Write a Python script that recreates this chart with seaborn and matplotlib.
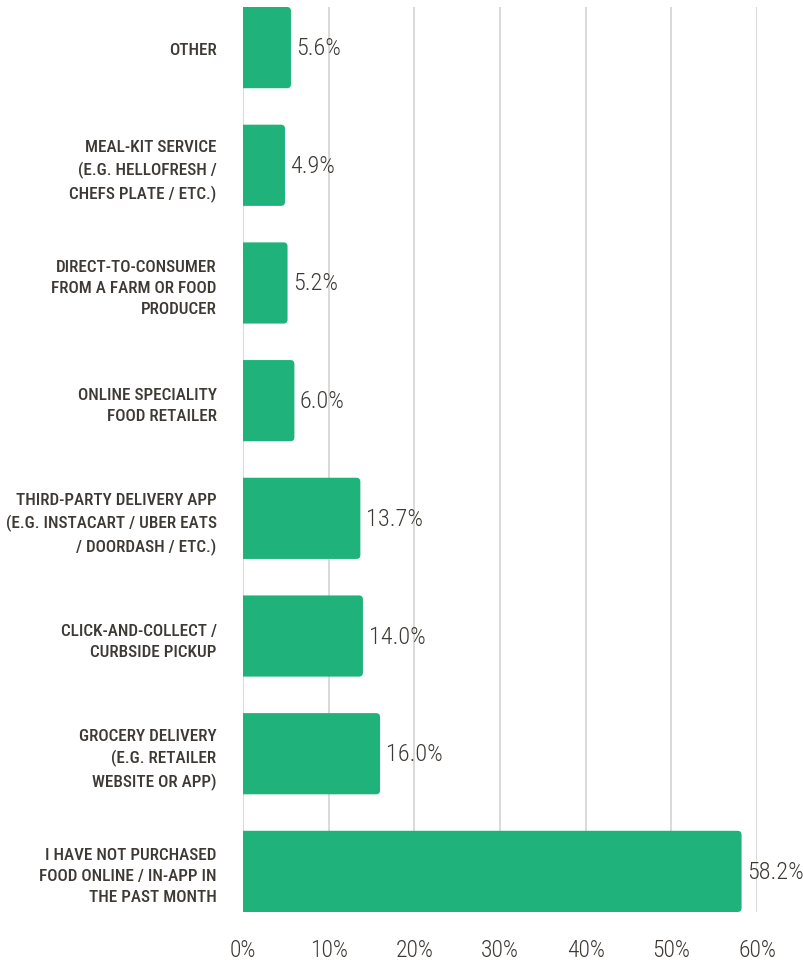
import matplotlib
matplotlib.use("Agg")
import matplotlib.pyplot as plt
import seaborn as sns
import pandas as pd
from matplotlib.patches import FancyBboxPatch
from matplotlib import font_manager
from matplotlib.font_manager import FontProperties
import os

categories = [
    "OTHER",
    "MEAL-KIT SERVICE\n(E.G. HELLOFRESH /\nCHEFS PLATE / ETC.)",
    "DIRECT-TO-CONSUMER\nFROM A FARM OR FOOD\nPRODUCER",
    "ONLINE SPECIALITY\nFOOD RETAILER",
    "THIRD-PARTY DELIVERY APP\n(E.G. INSTACART / UBER EATS\n/ DOORDASH / ETC.)",
    "CLICK-AND-COLLECT /\nCURBSIDE PICKUP",
    "GROCERY DELIVERY\n(E.G. RETAILER\nWEBSITE OR APP)",
    "I HAVE NOT PURCHASED\nFOOD ONLINE / IN-APP IN\nTHE PAST MONTH",
]
values = [5.6, 4.9, 5.2, 6.0, 13.7, 14.0, 16.0, 58.2]
ticks = [0, 10, 20, 30, 40, 50, 60]
tick_labels = ["0%", "10%", "20%", "30%", "40%", "50%", "60%"]

df = pd.DataFrame({"category": categories, "value": values})

sns.set_theme(style="white")
plt.rcParams["font.family"] = ["DejaVu Sans"]

files = [f.fname for f in font_manager.fontManager.ttflist]


def pick(prefs):
    for pref in prefs:
        for fn in files:
            if os.path.basename(fn).lower().replace(" ", "") == pref.lower():
                return fn
    return None


bold_file = pick(["RobotoCondensed-Medium.ttf", "RobotoCondensed-Bold.ttf",
                  "LiberationSansNarrow-Bold.ttf", "DejaVuSansCondensed-Bold.ttf",
                  "OpenSans-CondBold.ttf"])
light_file = pick(["RobotoCondensed-Light.ttf", "RobotoCondensed-Regular.ttf",
                   "LiberationSansNarrow-Regular.ttf", "DejaVuSansCondensed.ttf",
                   "OpenSans-CondLight.ttf"])


def fp(fname, size, weight="normal", stretch="condensed"):
    if fname:
        return FontProperties(fname=fname, size=size)
    return FontProperties(family="DejaVu Sans", size=size, weight=weight, stretch=stretch)


GREEN = "#1fb37b"
TEXT = "#3d3935"

fig = plt.figure(figsize=(8.04, 9.62), dpi=100)
ax = fig.add_axes([243 / 804, 1 - 913 / 962, (757 - 243) / 804, (913 - 8) / 962])

sns.barplot(data=df, y="category", x="value", orient="h", color=GREEN,
            width=0.69, saturation=1, ax=ax, zorder=3)

ax.set_xlim(0, 60)
ax.set_ylim(len(categories) - 1 + 0.345, -0.345)

# rounded right corners (left corners hidden behind the axes edge)
px_x = (757 - 243) / 60.0
px_y = (913 - 8) / (len(categories) - 1 + 0.69)
r = 4.0 / px_x
for p in list(ax.patches):
    x0, y0, w, h = p.get_x(), p.get_y(), p.get_width(), p.get_height()
    fb = FancyBboxPatch((x0 - 2 * r, y0), w + 2 * r, h,
                        boxstyle=f"round,pad=0,rounding_size={r}",
                        mutation_aspect=px_x / px_y,
                        facecolor=GREEN, edgecolor="none", linewidth=0, zorder=3)
    ax.add_patch(fb)
    p.set_visible(False)

val_fp = fp(light_file, 17.5)
for i, v in enumerate(values):
    ax.text(v + 0.65, i, f"{v:.1f}%", va="center", ha="left",
            fontproperties=val_fp, color=TEXT, clip_on=False, zorder=4)

ax.set_xticks(ticks)
ax.set_xticklabels(tick_labels, fontproperties=fp(light_file, 17), color=TEXT)
ax.tick_params(axis="x", length=0, pad=19)
ax.tick_params(axis="y", length=0, pad=19)
lab_fp = fp(bold_file, 12.3, weight="bold")
for lbl in ax.get_yticklabels():
    lbl.set_fontproperties(lab_fp)
    lbl.set_color(TEXT)
    lbl.set_linespacing(1.5)
    lbl.set_horizontalalignment("right")
    lbl.set_multialignment("right")

ax.xaxis.grid(True, color="#d3d3d3", linewidth=1.2, zorder=0)
ax.yaxis.grid(False)
for s in ax.spines.values():
    s.set_visible(False)
ax.set_xlabel("")
ax.set_ylabel("")
ax.set_axisbelow(True)

fig.savefig("out.png", dpi=100)
